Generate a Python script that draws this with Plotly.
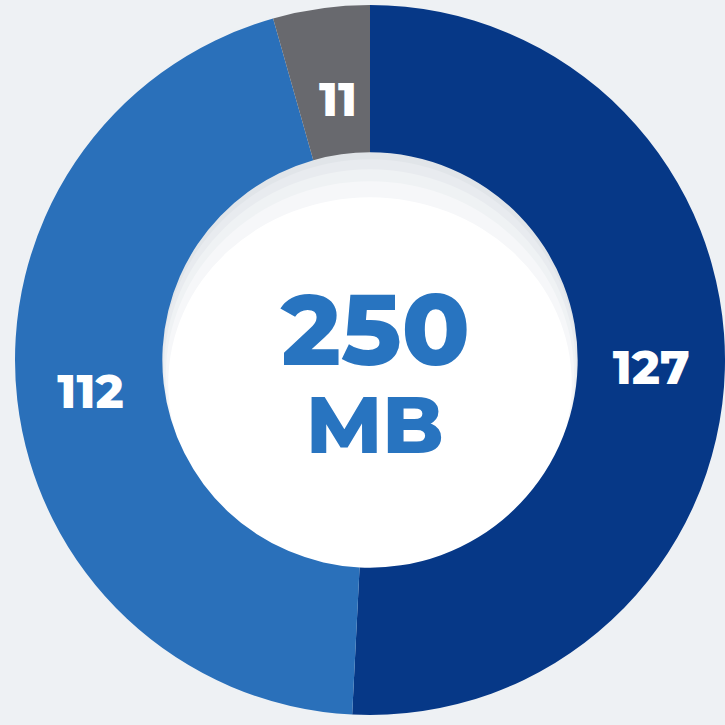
import math
import plotly.graph_objects as go

labels = ["Dark", "Blue", "Gray"]
values = [127, 112, 11]
colors = ["#063887", "#2a70ba", "#68696e"]
center_value = "250"
center_unit = "MB"

W = H = 725
ml, mt, mr, mb = 15, 5, 0, 10
pw = W - ml - mr
ph = H - mt - mb
R = min(pw, ph) / 2
HOLE = 0.585

font_family = "Montserrat, Inter, 'Open Sans', sans-serif"

# thin slice label drawn separately (plotly pushes it to the outer edge)
texts = [str(v) if v > 20 else "" for v in values]

fig = go.Figure(go.Pie(
    labels=labels,
    values=values,
    text=texts,
    sort=False,
    direction="clockwise",
    rotation=0,
    hole=HOLE,
    marker=dict(colors=colors, line=dict(width=0)),
    textinfo="text",
    textposition="inside",
    insidetextorientation="horizontal",
    textfont=dict(family=font_family, size=47, color="white", weight=800),
    showlegend=False,
    hoverinfo="none",
))

total = sum(values)
cum = 0
for v in values:
    if v <= 20:
        mid = (cum + v / 2) / total * 2 * math.pi
        rr = R * 0.74
        fig.add_annotation(text=str(v), x=0.5 + rr * math.sin(mid) / pw + 4 / pw,
                           y=0.5 + rr * math.cos(mid) / ph,
                           xref="paper", yref="paper", showarrow=False,
                           xanchor="center", yanchor="middle",
                           font=dict(family=font_family, size=47, color="white", weight=800))
    cum += v

def py(y):
    return 1 - (y - mt) / ph

hole_r = R * HOLE + 1
cx, cy = ml + pw / 2, mt + ph / 2
shade = [(0, "#e1e5e9"), (8, "#e8ebef"), (18, "#eff2f4"), (30, "#f6f7f9"), (46, "#ffffff")]
for off, col in shade:
    shrink = off * 0.15
    fig.add_shape(type="circle", xref="paper", yref="paper",
                  x0=(cx - hole_r + shrink - ml) / pw, x1=(cx + hole_r - shrink - ml) / pw,
                  y0=py(cy + hole_r + 1), y1=py(cy - hole_r + off),
                  fillcolor=col, line=dict(width=0), layer="below")

fig.add_annotation(text=center_value, x=(375 - ml) / pw, y=py(329), xref="paper", yref="paper",
                   showarrow=False, yanchor="middle", xanchor="center", height=76, valign="middle",
                   font=dict(family=font_family, size=100, color="#2874c0", weight=800))
fig.add_annotation(text=center_unit, x=(375 - ml) / pw, y=py(424), xref="paper", yref="paper",
                   showarrow=False, yanchor="middle", xanchor="center", height=62, valign="middle",
                   font=dict(family=font_family, size=80, color="#2874c0", weight=800))

fig.update_layout(
    width=W, height=H,
    margin=dict(l=ml, r=mr, t=mt, b=mb),
    paper_bgcolor="#eef1f4",
    plot_bgcolor="#eef1f4",
)

fig.write_html("out.html", config={"displayModeBar": False},
               post_script="document.body.style.margin='0';document.body.style.background='#eef1f4';")
